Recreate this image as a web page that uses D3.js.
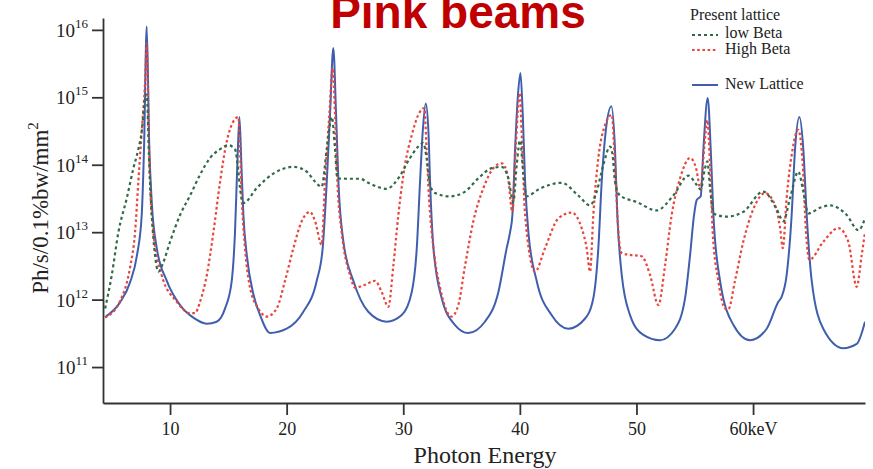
<!DOCTYPE html>
<html>
<head>
<meta charset="utf-8">
<script src="https://cdn.jsdelivr.net/npm/d3@7"></script>
<style>
  body { margin: 0; background: #fff; }
  text { font-family: "Liberation Serif", "Times New Roman", serif; fill: #222; }
</style>
</head>
<body>
<svg id="chart" width="873" height="469"></svg>
<script>
// Axis ticks
const xTicks = [10, 20, 30, 40, 50, 60];
const xTickLabels = ["10", "20", "30", "40", "50", "60keV"];
const yTickExponents = [11, 12, 13, 14, 15, 16];
const yTickValues = [1e11, 1e12, 1e13, 1e14, 1e15, 1e16];

// New Lattice (keV, Ph/s/0.1%bw/mm^2)
const newLatticeE = [4.43, 5.71, 6.57, 7.17, 7.57, 7.77, 8.0, 8.22, 8.43, 8.86, 9.72, 10.86, 12.0, 13.15, 14.0, 14.72,
  15.29, 15.57, 15.77, 15.95, 16.12, 16.29, 16.58, 17.15, 17.72, 18.58, 20.0, 21.43, 22.58, 23.09, 23.44, 23.72,
  24.0, 24.24, 24.44, 24.87, 25.72, 27.0, 28.58, 29.87, 30.73, 31.16, 31.44, 31.67, 31.93, 32.16, 32.3, 32.59,
  33.3, 34.44, 35.58, 37.0, 38.16, 38.87, 39.16, 39.36, 39.59, 39.82, 40.05, 40.25, 40.45, 40.73, 41.44, 42.72,
  44.15, 45.58, 46.3, 46.73, 47.02, 47.36, 47.85, 48.16, 48.36, 48.74, 49.45, 50.59, 52.02, 53.31, 54.17, 54.6,
  54.94, 55.17, 55.51, 55.74, 56.11, 56.37, 56.6, 57.17, 58.32, 59.74, 61.17, 62.17, 62.45, 62.88, 63.31, 63.6,
  63.97, 64.31, 64.6, 65.03, 66.02, 67.74, 68.89, 69.6];
const newLatticeFlux = [5.5e11, 9.1e11, 1.8e12, 4.6e12, 1.8e13, 1.8e14, 1.12e16, 1.8e14, 2.8e13, 5.8e12, 1.9e12, 8.3e11, 5.4e11, 4.4e11, 4.7e11, 7.4e11,
  1.9e12, 1.0e13, 1.0e14, 5.1e14, 1.0e14, 1.8e13, 4.6e12, 1.2e12, 5.9e11, 3.2e11, 3.7e11, 6.6e11, 1.9e12, 5.8e12, 5.6e13, 5.5e14,
  5.4e15, 5.5e14, 5.6e13, 7.2e12, 1.9e12, 6.6e11, 4.7e11, 5.9e11, 1.3e12, 5.8e12, 5.6e13, 3.1e14, 8.1e14, 3.1e14, 5.6e13, 5.8e12,
  1.05e12, 4.2e11, 3.2e11, 4.7e11, 1.3e12, 5.8e12, 1.0e13, 1.8e13, 1.7e14, 9.8e14, 2.3e15, 5.5e14, 5.6e13, 1.0e13, 1.9e12, 5.9e11,
  3.7e11, 5.2e11, 1.05e12, 5.8e12, 5.6e13, 3.1e14, 7.4e14, 1.7e14, 1.8e13, 2.3e12, 5.9e11, 3.0e11, 2.5e11, 3.7e11, 1.05e12, 4.6e12,
  1.8e13, 3.0e13, 3.4e13, 1.7e14, 9.8e14, 1.7e14, 1.8e13, 1.9e12, 4.2e11, 2.5e11, 3.7e11, 9.3e11, 1.1e12, 2.3e12, 1.8e13, 1.7e14,
  5.1e14, 1.7e14, 1.8e13, 1.9e12, 3.7e11, 1.9e11, 2.2e11, 4.7e11];

// Present lattice, High Beta
const highBetaE = [4.43, 5.71, 6.57, 7.0, 7.28, 7.57, 7.86, 8.0, 8.14, 8.28, 8.57, 9.28, 10.57, 11.72, 12.14, 12.57,
  13.15, 13.72, 14.29, 14.86, 15.43, 15.86, 16.0, 16.15, 16.43, 16.86, 17.57, 18.29, 19.15, 19.86, 20.58, 21.29,
  22.0, 22.44, 23.0, 23.29, 23.66, 23.95, 24.15, 24.35, 24.72, 25.44, 25.87, 26.72, 27.58, 28.15, 28.72, 29.15,
  29.58, 30.15, 30.73, 31.29, 31.81, 32.0, 32.21, 32.59, 33.16, 34.14, 34.72, 35.3, 36.01, 36.87, 37.73, 38.44,
  38.95, 39.36, 39.64, 39.98, 40.21, 40.45, 41.3, 42.16, 43.3, 44.44, 45.3, 45.73, 46.02, 46.3, 46.73, 47.31,
  47.88, 48.16, 48.45, 48.73, 49.45, 50.44, 51.17, 51.88, 52.45, 53.02, 53.74, 54.6, 55.11, 55.51, 55.8, 56.08,
  56.31, 56.54, 57.02, 57.59, 57.87, 58.45, 59.16, 60.02, 61.03, 61.89, 62.32, 62.55, 62.88, 63.39, 63.88, 64.26,
  64.54, 64.83, 66.02, 67.31, 68.17, 68.89, 69.32, 69.6];
const highBetaFlux = [5.4e11, 9.5e11, 3.0e12, 1.0e13, 5.6e13, 3.1e14, 1.7e15, 6.3e15, 5.5e14, 5.6e13, 1.0e13, 2.3e12, 9.3e11, 6.3e11, 6.3e11, 9.3e11,
  2.3e12, 1.0e13, 5.6e13, 2.2e14, 4.4e14, 5.1e14, 1.7e14, 3.2e13, 5.8e12, 1.5e12, 7.4e11, 5.6e11, 7.4e11, 1.9e12, 5.8e12, 1.45e13,
  2.0e13, 1.45e13, 6.5e12, 5.6e13, 5.5e14, 2.7e15, 5.5e14, 5.6e13, 1.0e13, 2.3e12, 1.5e12, 1.66e12, 1.9e12, 1.3e12, 7.8e11, 3.2e12,
  1.8e13, 1.0e14, 2.75e14, 5.5e14, 6.9e14, 1.7e14, 3.2e13, 5.8e12, 1.5e12, 5.6e11, 8.3e11, 3.2e12, 1.45e13, 4.5e13, 8.9e13, 1.05e14,
  7.1e13, 2.0e13, 1.7e14, 1.15e15, 1.7e14, 1.8e13, 2.6e12, 5.8e12, 1.6e13, 1.95e13, 1.15e13, 5.8e12, 2.6e12, 1.8e13, 1.26e14, 3.9e14,
  5.5e14, 1.0e14, 1.0e13, 4.9e12, 4.6e12, 4.4e12, 2.3e12, 8.3e11, 3.2e12, 1.8e13, 6.3e13, 1.26e14, 8.9e13, 4.3e13, 1.7e14, 4.6e14,
  1.0e14, 1.0e13, 1.9e12, 7.4e11, 7.1e11, 1.9e12, 7.2e12, 2.2e13, 3.8e13, 2.5e13, 1.15e13, 5.8e12, 3.2e13, 1.7e14, 3.3e14, 1.0e14,
  1.0e13, 3.9e12, 7.2e12, 1.15e13, 7.2e12, 1.55e12, 4.6e12, 1.0e13];

// Present lattice, low Beta
const lowBetaE = [4.43, 5.0, 5.57, 6.29, 6.86, 7.28, 7.57, 7.86, 8.0, 8.22, 8.43, 8.71, 9.0, 9.43, 10.0, 10.86,
  11.72, 12.57, 13.43, 14.29, 15.0, 15.57, 15.86, 16.0, 16.29, 17.43, 18.86, 20.58, 21.72, 22.44, 23.0, 23.44,
  23.87, 24.15, 24.35, 25.15, 26.3, 27.0, 28.58, 29.58, 30.58, 31.29, 31.72, 32.0, 32.3, 32.73, 34.01, 35.3,
  36.44, 37.59, 38.44, 39.01, 39.44, 39.73, 40.02, 40.3, 40.59, 41.59, 43.59, 45.01, 46.02, 46.59, 47.16, 47.74,
  47.95, 48.16, 48.59, 50.02, 51.73, 53.16, 54.45, 55.17, 55.51, 55.88, 56.08, 56.31, 56.6, 57.73, 59.16, 60.87,
  62.02, 62.6, 63.17, 63.88, 64.31, 64.74, 65.74, 66.6, 68.03, 69.03, 69.6];
const lowBetaFlux = [7.4e11, 2.3e12, 1.0e13, 3.2e13, 8.9e13, 1.7e14, 3.1e14, 9.8e14, 1.1e15, 1.0e14, 1.8e13, 4.6e12, 2.6e12, 3.6e12, 7.2e12, 1.8e13,
  3.5e13, 7.1e13, 1.26e14, 1.7e14, 1.95e14, 1.7e14, 7.9e13, 4.5e13, 2.7e13, 4.5e13, 7.4e13, 9.3e13, 7.9e13, 5.6e13, 4.7e13, 1.7e14,
  5.1e14, 1.7e14, 6.3e13, 6.2e13, 6.2e13, 5.4e13, 4.4e13, 6.3e13, 1.26e14, 1.86e14, 2.1e14, 1.26e14, 5.0e13, 3.8e13, 3.4e13, 4.0e13,
  6.3e13, 8.9e13, 9.3e13, 6.3e13, 2.8e13, 1.0e14, 2.3e14, 7.1e13, 3.4e13, 4.3e13, 5.4e13, 3.5e13, 2.5e13, 4.0e13, 1.0e14, 1.86e14,
  1.4e14, 5.6e13, 3.5e13, 2.8e13, 2.1e13, 3.5e13, 6.9e13, 5.0e13, 4.3e13, 8.9e13, 1.12e14, 4.5e13, 1.9e13, 1.7e13, 2.0e13, 4.0e13,
  2.2e13, 1.45e13, 3.2e13, 7.9e13, 4.0e13, 1.9e13, 2.3e13, 2.5e13, 1.8e13, 1.07e13, 1.6e13];

const svg = d3.select("#chart");
const plot = { left: 103, right: 865, top: 18, bottom: 403 };

const x = d3.scaleLinear().domain([4.25, 69.6]).range([plot.left, plot.right]);
const y = d3.scaleLog().domain([2.93e10, 1.5e16]).range([plot.bottom, plot.top]);

svg.append("defs").append("clipPath").attr("id", "plotClip")
  .append("rect")
  .attr("x", plot.left).attr("y", 0)
  .attr("width", plot.right - plot.left).attr("height", plot.bottom);

// Title
svg.append("text")
  .attr("x", 458).attr("y", 28)
  .attr("text-anchor", "middle")
  .style("font-family", "'Liberation Sans', Arial, sans-serif")
  .style("font-weight", "bold")
  .style("font-size", "46px")
  .style("fill", "#c00000")
  .text("Pink beams");

// Curves
const zip = (es, vs) => es.map((e, i) => [e, vs[i]]);
const line = d3.line().x(d => x(d[0])).y(d => y(d[1])).curve(d3.curveMonotoneX);

const curves = svg.append("g").attr("clip-path", "url(#plotClip)");
curves.append("path").datum(zip(newLatticeE, newLatticeFlux))
  .attr("d", line).attr("fill", "none")
  .attr("stroke", "#3f5fae").attr("stroke-width", 2).attr("stroke-linejoin", "round");
curves.append("path").datum(zip(highBetaE, highBetaFlux))
  .attr("d", line).attr("fill", "none")
  .attr("stroke", "#e8453c").attr("stroke-width", 2.2).attr("stroke-dasharray", "2.6,2.6");
curves.append("path").datum(zip(lowBetaE, lowBetaFlux))
  .attr("d", line).attr("fill", "none")
  .attr("stroke", "#2f6b48").attr("stroke-width", 2.2).attr("stroke-dasharray", "3,3");

// Axes
const axisColor = "#333";
const yAxis = svg.append("g").attr("transform", `translate(${plot.left},0)`)
  .call(d3.axisLeft(y).tickValues(yTickValues).tickFormat("").tickSize(11).tickSizeOuter(0));
const xAxis = svg.append("g").attr("transform", `translate(0,${plot.bottom})`)
  .call(d3.axisBottom(x).tickValues(xTicks).tickFormat((d, i) => xTickLabels[i]).tickSize(12).tickSizeOuter(0).tickPadding(7));
[yAxis, xAxis].forEach(g => {
  g.select(".domain").attr("stroke", axisColor).attr("stroke-width", 1.8);
  g.selectAll(".tick line").attr("stroke", axisColor).attr("stroke-width", 1.8);
});
xAxis.selectAll(".tick text")
  .style("font-family", "'Liberation Serif', 'Times New Roman', serif")
  .style("font-size", "18px").attr("fill", "#222");

// Y tick labels as powers of ten
yTickValues.forEach((v, i) => {
  const t = svg.append("text")
    .attr("x", 88).attr("y", y(v) + 7)
    .attr("text-anchor", "end")
    .style("font-size", "19px");
  t.append("tspan").text("10");
  t.append("tspan").attr("dy", -9).style("font-size", "13px").text(yTickExponents[i]);
});

// Axis titles
svg.append("text")
  .attr("x", 485).attr("y", 463)
  .attr("text-anchor", "middle")
  .style("font-size", "24px")
  .text("Photon Energy");

const yTitle = svg.append("text")
  .attr("transform", "translate(48,208) rotate(-90)")
  .attr("text-anchor", "middle")
  .style("font-size", "23px");
yTitle.append("tspan").text("Ph/s/0.1%bw/mm");
yTitle.append("tspan").attr("dy", -10).style("font-size", "15px").text("2");

// Legend
const legend = svg.append("g");
legend.append("text").attr("x", 690).attr("y", 20).style("font-size", "16px").text("Present lattice");
const legendItems = [
  { label: "low Beta", color: "#2f6b48", dash: "3,3", y: 35, ty: 38 },
  { label: "High Beta", color: "#e8453c", dash: "2.6,2.6", y: 50, ty: 54 },
  { label: "New Lattice", color: "#3f5fae", dash: null, y: 85, ty: 89 }
];
legendItems.forEach(it => {
  legend.append("line")
    .attr("x1", 692).attr("x2", 718).attr("y1", it.y).attr("y2", it.y)
    .attr("stroke", it.color).attr("stroke-width", 2)
    .attr("stroke-dasharray", it.dash);
  legend.append("text").attr("x", 725).attr("y", it.ty).style("font-size", "16px").text(it.label);
});
</script>
</body>
</html>
